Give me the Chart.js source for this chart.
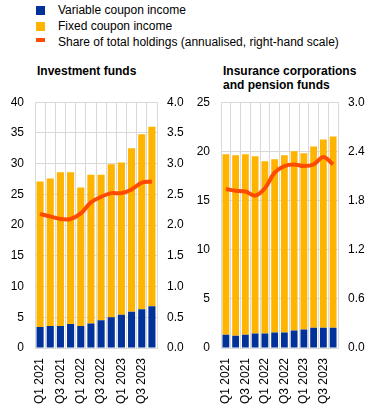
<!DOCTYPE html>
<html>
<head>
<meta charset="utf-8">
<script src="https://cdn.jsdelivr.net/npm/chart.js@4"></script>
<style>
  body { margin: 0; width: 372px; height: 409px; background: #fff; font-family: "Liberation Sans", Arial, sans-serif; color: #000; position: relative; overflow: hidden; }
  .lg { position: absolute; left: 58px; font-size: 12px; line-height: 14px; }
  .sw { position: absolute; left: 36px; width: 9px; }
  .ttl { position: absolute; top: 64px; font-size: 12px; font-weight: bold; line-height: 14px; }
  .cv { position: absolute; top: 84px; height: 325px; }
</style>
</head>
<body>
<div class="sw" style="top:6px;height:9px;background:#003299"></div>
<div class="lg" style="top:3px">Variable coupon income</div>
<div class="sw" style="top:22px;height:9px;background:#ffb400"></div>
<div class="lg" style="top:19px">Fixed coupon income</div>
<div class="sw" style="top:38px;height:4px;background:#ff4b00"></div>
<div class="lg" style="top:35px">Share of total holdings (annualised, right-hand scale)</div>

<div class="ttl" style="left:37px">Investment funds</div>
<div class="ttl" style="left:223px">Insurance corporations<br>and pension funds</div>

<div class="cv" style="left:0;width:192px"><canvas id="chartIF"></canvas></div>
<div class="cv" style="left:186px;width:186px"><canvas id="chartIC"></canvas></div>

<script>
const quarters = ['Q1 2021','Q2 2021','Q3 2021','Q4 2021','Q1 2022','Q2 2022','Q3 2022','Q4 2022','Q1 2023','Q2 2023','Q3 2023','Q4 2023'];

// investment funds (EUR bn, share in %)
const ifVariable = [3.4,3.6,3.6,3.9,3.6,4.0,4.5,5.0,5.4,5.9,6.3,6.8];
const ifTotal    = [27.1,27.6,28.6,28.6,26.1,28.2,28.2,29.9,30.2,32.5,34.8,36.0];
const ifShare    = [2.18,2.14,2.10,2.10,2.19,2.37,2.46,2.52,2.52,2.58,2.69,2.71];

// insurance corporations and pension funds
const icVariable = [1.34,1.24,1.34,1.47,1.47,1.57,1.57,1.77,1.87,2.07,2.07,2.07];
const icTotal    = [19.7,19.6,19.7,19.5,19.0,19.2,19.6,20.0,19.8,20.5,21.2,21.5];
const icShare    = [1.94,1.92,1.91,1.86,1.95,2.14,2.22,2.24,2.22,2.24,2.33,2.24];

const ifFixed = ifTotal.map((t, i) => +(t - ifVariable[i]).toFixed(2));
const icFixed = icTotal.map((t, i) => +(t - icVariable[i]).toFixed(2));

const gridCol = '#d9d9d9';
const tickFont = { family: '"Liberation Sans", Arial, sans-serif', size: 12 };

function makeChart(id, variable, fixed, share, yMax, yStep, y1Max, y1Step, wLeft, wRight, padTop) {
  const ctx = document.getElementById(id).getContext('2d');
  return new Chart(ctx, {
    data: {
      labels: quarters,
      datasets: [
        { type: 'line', data: share, yAxisID: 'y1', borderColor: '#ff4b00', borderWidth: 4, pointRadius: 0, tension: 0.35, order: 0 },
        { type: 'bar', data: variable, backgroundColor: '#003299', stack: 's', barPercentage: 0.7, categoryPercentage: 1, order: 1 },
        { type: 'bar', data: fixed, backgroundColor: '#ffb400', stack: 's', barPercentage: 0.7, categoryPercentage: 1, order: 1 }
      ]
    },
    options: {
      responsive: true,
      maintainAspectRatio: false,
      animation: false,
      layout: { padding: { top: padTop, left: 0, right: 0, bottom: 0 } },
      scales: {
        x: {
          stacked: true,
          grid: { color: gridCol, offset: true, drawTicks: false },
          border: { color: gridCol },
          ticks: {
            autoSkip: false, minRotation: 90, maxRotation: 90, color: '#000', font: tickFont, padding: 10,
            callback: function(v, i) { return i % 2 === 0 ? quarters[i] : ''; }
          },
          afterFit: function(s) { s.height = 61; }
        },
        y: {
          stacked: true, min: 0, max: yMax,
          grid: { color: gridCol, drawTicks: false },
          border: { color: gridCol },
          ticks: { stepSize: yStep, color: '#000', font: tickFont, padding: 11 },
          afterFit: function(s) { s.width = wLeft; }
        },
        y1: {
          position: 'right', min: 0, max: y1Max,
          grid: { display: false, drawTicks: false },
          border: { color: gridCol },
          ticks: { stepSize: y1Step, color: '#000', font: tickFont, padding: 10,
            callback: function(v) { return v.toFixed(1); } },
          afterFit: function(s) { s.width = wRight; }
        }
      },
      plugins: { legend: { display: false }, tooltip: { enabled: false } }
    }
  });
}

makeChart('chartIF', ifVariable, ifFixed, ifShare, 40, 5, 4, 0.5, 35, 35, 5);
makeChart('chartIC', icVariable, icFixed, icShare, 25, 5, 3, 0.6, 35, 34, 4);
</script>
</body>
</html>
